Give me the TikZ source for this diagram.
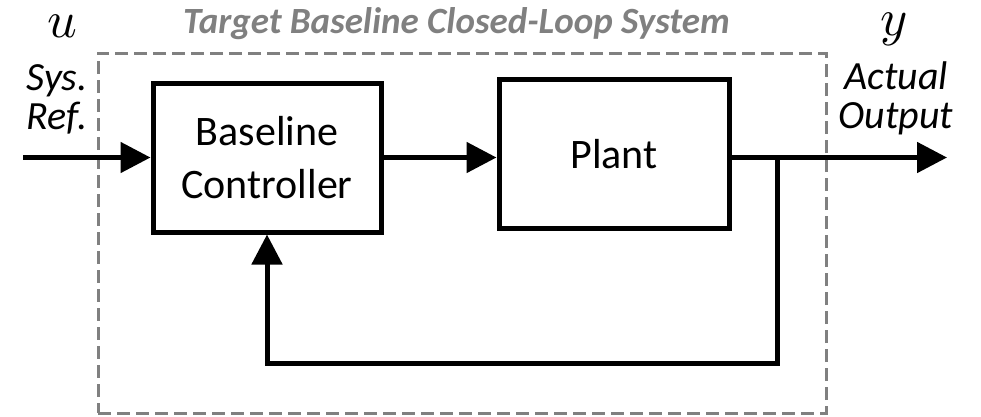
\documentclass[tikz,border=0pt]{standalone}
\usepackage{fontspec}
\setmainfont{Carlito}
\usetikzlibrary{arrows.meta}

\begin{document}
\begin{tikzpicture}[x=1pt, y=-1pt,
		blk/.style={draw, line width=5pt, minimum width=228pt, minimum height=149pt, align=center, font=\fontsize{42}{53}\selectfont},
		sig/.style={line width=5pt, -{Triangle[length=30pt, width=30pt]}},
		lbl/.style={font=\fontsize{40}{39}\selectfont\itshape, align=center, inner sep=0pt},
		var/.style={scale=5.2, inner sep=0pt},
		sysbox/.style={draw=black!50, line width=3pt, dash pattern=on 13pt off 6pt, minimum width=728pt, minimum height=360pt}]
			%%%%% START %%%%%
			\useasboundingbox (0,0) rectangle (981,416);
			
			% dashed outline of the closed loop
			\node[sysbox] (sys) at (462,233) {};
			\node[font=\fontsize{37}{37}\selectfont\bfseries\itshape, text=black!50, inner sep=0pt] (title) at (456.5,24) {Target Baseline Closed-Loop System};
			
			\node[blk] (ctrl) at (267,157.5) {Baseline\\Controller};
			\node[blk, minimum width=230pt] (plant) at (614,154) {Plant};
			
			\coordinate (in) at (23,157.5);
			\coordinate (out) at (947,157.5);
			\coordinate (tap) at (777,157.5);
			\coordinate (ret) at (267,363);
			
			\draw[sig] (in) -- (ctrl.west);
			\draw[sig] (ctrl.east) -- (ctrl.east -| plant.west);
			\draw[sig] (ctrl.east -| plant.east) -- (out);
			\draw[sig] (tap) |- (ret) -- (ctrl.south);
			
			% signal names
			\node[var] (u) at (62,26) {$u$};
			\node[var] (y) at (894,29) {$y$};
			\node[lbl] (ref) at (57,99) {Sys.\\Ref.};
			\node[lbl] (act) at (896,98) {Actual\\Output};
			
			%%%%% END %%%%%
		\end{tikzpicture}
\end{document}
